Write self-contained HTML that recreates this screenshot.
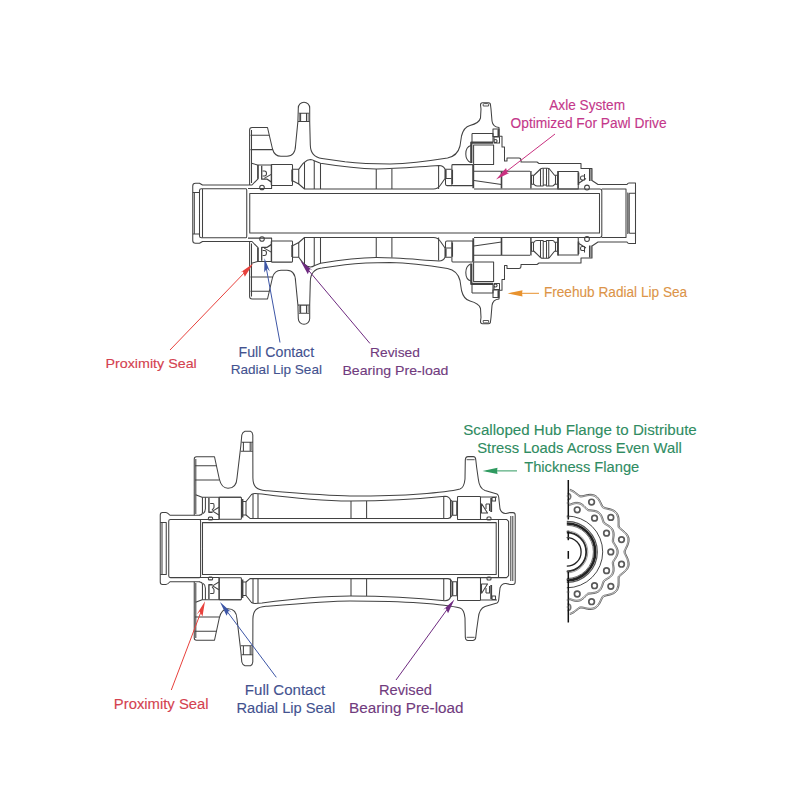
<!DOCTYPE html>
<html><head><meta charset="utf-8"><style>
html,body{margin:0;padding:0;background:#fff;}
body{width:800px;height:800px;overflow:hidden;position:relative;}
svg{position:absolute;left:0;top:0;}
.t{font-family:"Liberation Sans",sans-serif;font-size:13.5px;}
</style></head><body>
<svg width="800" height="800" viewBox="0 0 800 800">


<g fill="none" stroke="#424242" stroke-width="1.05" stroke-linejoin="round">
  <path d="M192.75,213.25 V186 Q192.75,183.2 195.5,183.2 H199.5 L202.5,185 H252 L258,178.8 V165 M 192.75 213.25 V 240.5 Q 192.75 243.3 195.5 243.3 H 199.5 L 202.5 241.5 H 252 L 258 247.7 V 261.5"/>
  <path d="M194.3,213.25 V192.5 M192.75,192.5 H199.5 M 194.3 213.25 V 234 M 192.75 234 H 199.5"/>
  <path d="M199.5,213.25 V190.5 Q199.5,188.75 201.5,188.75 H246 Q246.75,188.75 246.75,190.5 V213.25 M 199.5 213.25 V 236 Q 199.5 237.75 201.5 237.75 H 246 Q 246.75 237.75 246.75 236 V 213.25"/>
  <path d="M202.5,213.25 V189 M 202.5 213.25 V 237.5"/>
  <path d="M249.75,213.25 V193.5 H599.5 V213.25 M 249.75 213.25 V 233 H 599.5 V 213.25"/>
  <path d="M249.6,185 V130 Q249.6,127.5 252.1,127.5 H267.5 L272.5,149 Q274.5,156.25 281,156.25 H287 Q295.3,156.25 295.6,145 L297.9,121.4 L298.3,108 A5.7,5.7 0 0 1 309.7,108 V121.4 L310.3,145 C310.5,153 314,157.5 322,158.4 L345,161.8 C360,163.5 375,164 390,164 C410,163.5 432,160.5 447.5,158 C455,156.5 458.5,152 460,146 L461.5,136 C463,130 466,126.5 470,125.5 C476,124 479.5,122 480.5,118 L481,109 L480.5,105 Q480.5,102.8 482.5,102.8 H488.5 Q490.5,102.8 490.5,105 L491,109 L492,121 C492.5,125 494.5,127 499,127.5 V136.2 H502 V147 H504.5 V161 H507 V158 H519 Q521,158 521,160.5 V162 H537 L539,163.5 H581 V168.5 H592 V180.5 L598,184.5 H627 Q627.8,183 629,183 H635.5 V213.25 M 249.6 241.5 V 296.5 Q 249.6 299 252.1 299 H 267.5 L 272.5 277.5 Q 274.5 270.25 281 270.25 H 287 Q 295.3 270.25 295.6 281.5 L 297.9 305.1 L 298.3 318.5 A 5.7 5.7 0 0 0 309.7 318.5 V 305.1 L 310.3 281.5 C 310.5 273.5 314 269 322 268.1 L 345 264.7 C 360 263 375 262.5 390 262.5 C 410 263 432 266 447.5 268.5 C 455 270 458.5 274.5 460 280.5 L 461.5 290.5 C 463 296.5 466 300 470 301 C 476 302.5 479.5 304.5 480.5 308.5 L 481 317.5 L 480.5 321.5 Q 480.5 323.7 482.5 323.7 H 488.5 Q 490.5 323.7 490.5 321.5 L 491 317.5 L 492 305.5 C 492.5 301.5 494.5 299.5 499 299 V 290.3 H 502 V 279.5 H 504.5 V 265.5 H 507 V 268.5 H 519 Q 521 268.5 521 266 V 264.5 H 537 L 539 263 H 581 V 258 H 592 V 246 L 598 242 H 627 Q 627.8 243.5 629 243.5 H 635.5 V 213.25"/>
  <path d="M251.5,183 V130 M 251.5 243.5 V 296.5"/>
  <path d="M250.5,135.3 H269.3 M 250.5 291.2 H 269.3"/>
  <path d="M250.5,149.6 H272.6 M 250.5 276.9 H 272.6"/>
  <path d="M298.8,113.3 H309.2 M298,121.4 H309.7 M300.6,113.3 V121.4 M306.5,113.3 V121.4 M 298.8 313.2 H 309.2 M 298 305.1 H 309.7 M 300.6 313.2 V 305.1 M 306.5 313.2 V 305.1"/>
  <path d="M299.4,114 V121 M308.2,114 V121 M 299.4 312.5 V 305.5 M 308.2 312.5 V 305.5" stroke="#888" stroke-width="1.2"/>
  <path d="M251.5,163.2 L257.6,165 H271.6 V188.4 H248 M 251.5 263.3 L 257.6 261.5 H 271.6 V 238.1 H 248"/>
  <path d="M257.9,165 V178.8 M 257.9 261.5 V 247.7" stroke-width="1.4"/>
  <path d="M261.7,165.7 V179.2 H267.2 L271.2,181.9 M 261.7 260.8 V 247.3 H 267.2 L 271.2 244.6" stroke-width="1.3"/>
  <path d="M262.6,171 H264.5 Q266.5,171 266.5,173.5 Q266.5,176 264.5,176 H262.6 M 262.6 255.5 H 264.5 Q 266.5 255.5 266.5 253 Q 266.5 250.5 264.5 250.5 H 262.6"/>
  <path d="M264.2,178.4 L271.2,174.4 M 264.2 248.1 L 271.2 252.1"/>
  <circle cx="262" cy="187.5" r="2.3"/>
  <circle cx="262" cy="239" r="2.3"/>
  <rect x="271.25" y="164.4" width="21.25" height="21.2" rx="0.8"/>
  <rect x="271.25" y="240.9" width="21.25" height="21.2" rx="0.8"/>
  <path d="M292.2,169.5 V181.5 M 292.2 257 V 245" stroke-width="1.8"/>
  <path d="M293,169.25 H298.75 V184 L293,181 M 293 257.25 H 298.75 V 242.5 L 293 245.5"/>
  <path d="M298.75,169.25 C301,166.5 302.5,163.5 304.5,162.3 Q307,159.5 310.5,159.5 Q312.5,159.6 314.2,160.8 L320.5,163.2 C340,166.3 358,168.6 376,168.9 C395,169 415,167 439,165.5 Q443.5,165.6 445,169.2 M 298.75 257.25 C 301 260 302.5 263 304.5 264.2 Q 307 267 310.5 267 Q 312.5 266.9 314.2 265.7 L 320.5 263.3 C 340 260.2 358 257.9 376 257.6 C 395 257.5 415 259.5 439 261 Q 443.5 260.9 445 257.3"/>
  <path d="M438.6,166 V189 M 438.6 260.5 V 237.5"/>
  <path d="M298.75,184 L304.5,189 H433.5 Q438,189 440.5,185 L445,178.5 M 298.75 242.5 L 304.5 237.5 H 433.5 Q 438 237.5 440.5 241.5 L 445 248"/>
  <path d="M304.5,162.4 V189 M314.25,160.8 V189 M320.5,163.2 V189 M 304.5 264.1 V 237.5 M 314.25 265.7 V 237.5 M 320.5 263.3 V 237.5"/>
  <path d="M376.25,168.9 V189 M391.9,168.9 V189 M 376.25 257.6 V 237.5 M 391.9 257.6 V 237.5"/>
  <path d="M445,169.2 V178.5 M445,169.25 H451.5 M445.5,178.5 H451.5 M445.5,178.5 V184 Q445.5,185.6 447,185.6 H452 M 445 257.3 V 248 M 445 257.25 H 451.5 M 445.5 248 H 451.5 M 445.5 248 V 242.5 Q 445.5 240.9 447 240.9 H 452"/>
  <path d="M445.8,169.8 V178 M 445.8 256.7 V 248.5" stroke-width="1.6"/>
  <path d="M452.3,169.8 V184 M 452.3 256.7 V 242.5" stroke-width="1.5"/>
  <rect x="451.9" y="164.6" width="21.2" height="21" rx="0.8"/>
  <rect x="451.9" y="240.9" width="21.2" height="21" rx="0.8"/>
  <path d="M473.3,165 V188.3 M 473.3 261.5 V 238.2" stroke-width="1.8"/>
  <path d="M472,133.5 H493 V142 M472,142 V133.5 M 472 293 H 493 V 284.5 M 472 284.5 V 293"/>
  <path d="M493,142.6 H471.3 V163 M 493 283.9 H 471.3 V 263.5" stroke-width="2.2"/>
  <rect x="473.6" y="145" width="20" height="19.5"/>
  <rect x="473.6" y="262" width="20" height="19.5"/>
  <path d="M471,145.5 C467,146.5 465.8,150 465.8,154 C465.8,158 467.5,161 470.5,162.5 M 471 281 C 467 280 465.8 276.5 465.8 272.5 C 465.8 268.5 467.5 265.5 470.5 264"/>
  <path d="M493,129 H499 V136.5 H493 Z M 493 297.5 H 499 V 290 H 493 Z" />
  <path d="M483.2,106 V104.5 Q483.2,103.6 484.2,103.6 H487.6 Q488.6,103.6 488.6,104.5 V106 Z M 483.2 320.5 V 322 Q 483.2 322.9 484.2 322.9 H 487.6 Q 488.6 322.9 488.6 322 V 320.5 Z" stroke-width="0.9"/>
  <path d="M498.3,129.5 V136 M 498.3 297 V 290.5" stroke-width="1.6"/>
  <path d="M494,137 H499.5 V143 H494 Z M495.5,139.5 A1.5,1.5 0 1 0 495.6,139.5 M 494 289.5 H 499.5 V 283.5 H 494 Z M 495.5 287 A 1.5 1.5 0 1 1 495.6 287"/>
  <path d="M474,171.2 H530 M 474 255.3 H 530" />
  <path d="M501.5,171.5 V188.5 M 501.5 255 V 238" stroke-width="1.6"/>
  <path d="M474,180.5 L501.5,184.5 M 474 246 L 501.5 242" />
  <path d="M474,189 H578.5 M 474 237.5 H 578.5" />
  <path d="M530.9,171 V188.5 M 530.9 255.5 V 238" stroke-width="1.4"/>
  <path d="M531.5,175.25 H534 L540.5,169 Q541.5,168.25 542.5,168.25 H547.5 Q548.5,168.25 549.5,169 L554.5,175.25 H557.5 V184.25 H554.5 Q554,186 552.5,186 H546.5 L546,185 H543.5 L543,186 H537 Q535,186 534,184.25 H531.5 Z M 531.5 251.25 H 534 L 540.5 257.5 Q 541.5 258.25 542.5 258.25 H 547.5 Q 548.5 258.25 549.5 257.5 L 554.5 251.25 H 557.5 V 242.25 H 554.5 Q 554 240.5 552.5 240.5 H 546.5 L 546 241.5 H 543.5 L 543 240.5 H 537 Q 535 240.5 534 242.25 H 531.5 Z"/>
  <path d="M540.5,169 V186 M543.25,168.25 V185.3 M546.5,168.25 V185.3 M548.75,168.5 V186 M533.5,175.25 V184.25 M555.5,175.25 V184.25 M 540.5 257.5 V 240.5 M 543.25 258.25 V 241.2 M 546.5 258.25 V 241.2 M 548.75 258 V 240.5 M 533.5 251.25 V 242.25 M 555.5 251.25 V 242.25"/>
  <path d="M558.2,171 V188.5 M 558.2 255.5 V 238" stroke-width="1.4"/>
  <rect x="557.75" y="171.5" width="20.5" height="17.5"/>
  <rect x="557.75" y="237.5" width="20.5" height="17.5"/>
  <path d="M578.5,172.5 V185 M 578.5 254 V 241.5" stroke-width="1.6"/>
  <path d="M589.5,169 V181 M591,169 V181 M 589.5 257.5 V 245.5 M 591 257.5 V 245.5"/>
  <path d="M584.5,174 V180 H582 Q580.5,180 580.5,178 Q580.5,176 582,176 H584.5 M579,183 L586,178.5 M 584.5 252.5 V 246.5 H 582 Q 580.5 246.5 580.5 248.5 Q 580.5 250.5 582 250.5 H 584.5 M 579 243.5 L 586 248"/>
  <circle cx="587" cy="187.5" r="2.4"/>
  <circle cx="587" cy="239" r="2.4"/>
  <path d="M578.5,189 H599.8 Q601.8,189 601.8,191 V213.25 M601.8,189 H626 V213.25 M 578.5 237.5 H 599.8 Q 601.8 237.5 601.8 235.5 V 213.25 M 601.8 237.5 H 626 V 213.25"/>
  <path d="M629.2,193.3 V213.25 M629.2,193.3 H635.5 M627.8,192.5 V213.25 M 629.2 233.2 V 213.25 M 629.2 233.2 H 635.5 M 627.8 234 V 213.25"/>
</g>
<g fill="none" stroke="#424242" stroke-width="1.05" stroke-linejoin="round">
  <path d="M160.25,548.5 V515 Q160.25,512.5 162.5,512.5 H166 Q167.5,512.5 170,515.25 H200 M 160.25 548.5 V 582 Q 160.25 584.5 162.5 584.5 H 166 Q 167.5 584.5 170 581.75 H 200"/>
  <path d="M162,548.5 V522.5 M160.25,522.5 H166.25 V548.5 M 162 548.5 V 574.5 M 160.25 574.5 H 166.25 V 548.5"/>
  <path d="M168.75,548.5 V521 Q168.75,519.4 170.5,519.4 H199.5 Q200.6,519.4 200.6,521 V548.5 M 168.75 548.5 V 576 Q 168.75 577.6 170.5 577.6 H 199.5 Q 200.6 577.6 200.6 576 V 548.5"/>
  <path d="M202.5,548.5 V522.6 H496.2 V548.5 M 202.5 548.5 V 574.4 H 496.2 V 548.5"/>
  <path d="M194.25,515.25 V459 Q194.25,456.75 196.5,456.75 H214.5 L219.3,479 Q221.5,488.25 228,488.25 Q236.5,488.25 237,478 L240.8,446 L241.8,435 Q242.5,432 245,431.3 H250.5 Q252.5,432 252.8,435 V442.5 L252.9,478 C253,486 256,490 266,490.7 C300,493.5 330,496 350,496 C375,496 400,495.5 420,494 C440,492.5 452,491 460,489 C463,488 464.5,484 465,479 L465.3,460 Q465.5,456.6 468,456.6 H473 Q475.7,456.8 475.8,460 L476.6,467 L478.3,479 C479,486 481,489 485,490.5 L497,494 Q498.5,495 498.7,497 L500,509 C501,512 503,513.6 506,513.4 L510,512.6 H513 Q515.2,512.6 515.2,515 V548.5 M 194.25 581.75 V 638 Q 194.25 640.25 196.5 640.25 H 214.5 L 219.3 618 Q 221.5 608.75 228 608.75 Q 236.5 608.75 237 619 L 240.8 651 L 241.8 662 Q 242.5 665 245 665.7 H 250.5 Q 252.5 665 252.8 662 V 654.5 L 252.9 619 C 253 611 256 607 266 606.3 C 300 603.5 330 601 350 601 C 375 601 400 601.5 420 603 C 440 604.5 452 606 460 608 C 463 609 464.5 613 465 618 L 465.3 637 Q 465.5 640.4 468 640.4 H 473 Q 475.7 640.2 475.8 637 L 476.6 630 L 478.3 618 C 479 611 481 608 485 606.5 L 497 603 Q 498.5 602 498.7 600 L 500 588 C 501 585 503 583.4 506 583.6 L 510 584.4 H 513 Q 515.2 584.4 515.2 582 V 548.5"/>
  <path d="M195.8,514 V459 M 195.8 583 V 638"/>
  <path d="M466.6,459.6 H474.6 M 466.6 637.4 H 474.6" stroke="#777" stroke-width="1.2"/>
  <path d="M195,465.75 H216.4 M195,480 H219.5 M 195 631.25 H 216.4 M 195 617 H 219.5"/>
  <path d="M241.6,442.3 H252.8 M240.6,451.3 H252.8 M243.4,442.3 V451.3 M250.2,442.3 V451.3 M 241.6 654.7 H 252.8 M 240.6 645.7 H 252.8 M 243.4 654.7 V 645.7 M 250.2 654.7 V 645.7"/>
  <path d="M251.5,443 V450.8 M 251.5 654 V 646.2" stroke="#999" stroke-width="1.2"/>
  <path d="M195.6,494.8 L202.1,497.3 H241 M 195.6 602.2 L 202.1 599.7 H 241"/>
  <path d="M202.45,497.3 V512.5 Q202.45,515 199.5,515.1 M 202.45 599.7 V 584.5 Q 202.45 582 199.5 581.9"/>
  <path d="M205.4,497.3 V508.7 Q205.3,512 203.2,513.6 M 205.4 599.7 V 588.3 Q 205.3 585 203.2 583.4"/>
  <path d="M208.9,497.9 V512.2 H212.6 M 208.9 599.1 V 584.8 H 212.6" stroke-width="1.4"/>
  <path d="M210.2,503.5 H213 Q214,503.5 214,505 V507.5 L212,510.4 M 210.2 593.5 H 213 Q 214 593.5 214 592 V 589.5 L 212 586.6"/>
  <path d="M212.6,511.15 L218.9,507.3 M212.6,511.15 L218.9,515 M 212.6 585.85 L 218.9 589.7 M 212.6 585.85 L 218.9 582"/>
  <path d="M219.25,497.3 V519.5 M199.5,519.45 H219.25 M 219.25 599.7 V 577.5 M 199.5 577.55 H 219.25"/>
  <rect x="208.4" y="517.1" width="4.2" height="2.8" rx="1"/>
  <rect x="208.4" y="577.1" width="4.2" height="2.8" rx="1"/>
  <rect x="219" y="497.2" width="22.4" height="22" rx="0.8"/>
  <rect x="219" y="577.8" width="22.4" height="22" rx="0.8"/>
  <path d="M241.6,499 V517.5 M242.8,499 V517.5 M 241.6 598 V 579.5 M 242.8 598 V 579.5" stroke-width="1.2"/>
  <path d="M243,501.5 H246 V515 H243 M 243 595.5 H 246 V 582 H 243"/>
  <path d="M246,501.5 L251.5,494.5 Q253,493.5 255,493.5 L262,494 C300,499 330,501 350,501 C380,501 410,500 445,496.3 Q449.5,496.5 450.5,500 V518.3 M 246 595.5 L 251.5 602.5 Q 253 603.5 255 603.5 L 262 603 C 300 598 330 596 350 596 C 380 596 410 597 445 600.7 Q 449.5 600.5 450.5 597 V 578.7"/>
  <path d="M443.75,496.5 V518.3 M 443.75 600.5 V 578.7"/>
  <path d="M246,515 L250,518.4 H448 Q450.5,518.4 452,515.3 M 246 582 L 250 578.6 H 448 Q 450.5 578.6 452 581.7"/>
  <path d="M457.5,519.4 H506.6 L508.6,521.4 V548.5 M 457.5 577.6 H 506.6 L 508.6 575.6 V 548.5"/>
  <path d="M253,494 V518.8 M258,494 V518.8 M 253 603 V 578.2 M 258 603 V 578.2"/>
  <path d="M351,501 V518.4 M366.6,501 V518.4 M 351 596 V 578.6 M 366.6 596 V 578.6"/>
  <path d="M450.5,500 L452,501.25 V515.3 M452,501.25 H457.5 M452,515.3 H457.5 M 450.5 597 L 452 595.75 V 581.7 M 452 595.75 H 457.5 M 452 581.7 H 457.5"/>
  <path d="M452.6,501.5 V515 M 452.6 595.5 V 582" stroke-width="1.4"/>
  <path d="M457,501.5 V515 M 457 595.5 V 582" stroke-width="1.6"/>
  <rect x="457.5" y="496.5" width="23" height="23" rx="0.8"/>
  <rect x="457.5" y="577.5" width="23" height="23" rx="0.8"/>
  <path d="M480.5,497 H497 M 480.5 600 H 497"/>
  <path d="M481.5,503.5 L487.5,513 M481.5,503.5 V513 H488 M 481.5 593.5 L 487.5 584 M 481.5 593.5 V 584 H 488"/>
  <path d="M486,504 H489.5 V511 M486,504 V509 M 486 593 H 489.5 V 586 M 486 593 V 588"/>
  <path d="M491.2,498 V512 M 491.2 599 V 585" stroke-width="1.8"/>
  <rect x="492" y="497.5" width="3.5" height="3.5"/>
  <rect x="492" y="596" width="3.5" height="3.5"/>
  <rect x="487" y="517" width="4" height="3" rx="1"/>
  <rect x="487" y="577" width="4" height="3" rx="1"/>
  <path d="M498.5,519.4 V548.5 M 498.5 577.6 V 548.5"/>
  <path d="M510.8,516 V548.5 M512.8,516 V548.5 M 510.8 581 V 548.5 M 512.8 581 V 548.5"/>
</g>

<!-- ============ scalloped flange view ============ -->
<g id="scallop" fill="none" stroke="#3a3a3a">
<path d="M569.8,489.3 L570.7,489.5 L571.5,489.9 L572.3,490.3 L573.2,490.7 L574.0,491.2 L574.8,491.8 L575.5,492.4 L576.3,493.0 L577.0,493.6 L577.8,494.1 L578.5,494.7 L579.2,495.2 L580.0,495.6 L580.8,495.8 L581.6,495.7 L582.5,495.6 L583.4,495.5 L584.3,495.3 L585.2,495.1 L586.1,494.8 L587.1,494.7 L588.0,494.5 L589.0,494.4 L589.9,494.3 L590.9,494.3 L591.8,494.4 L592.7,494.5 L593.5,494.7 L594.4,495.0 L595.2,495.4 L595.9,495.8 L596.6,496.3 L597.3,496.9 L597.9,497.6 L598.5,498.3 L599.1,499.1 L599.6,499.9 L600.1,500.7 L600.5,501.6 L601.0,502.5 L601.4,503.3 L601.8,504.2 L602.2,505.0 L602.6,505.7 L603.1,506.4 L603.7,507.0 L604.5,507.3 L605.3,507.6 L606.2,507.9 L607.1,508.1 L608.0,508.3 L608.9,508.5 L609.9,508.7 L610.8,509.0 L611.7,509.3 L612.6,509.7 L613.4,510.0 L614.2,510.5 L615.0,511.0 L615.7,511.5 L616.3,512.2 L616.9,512.8 L617.4,513.6 L617.8,514.3 L618.2,515.2 L618.5,516.0 L618.7,516.9 L618.9,517.8 L619.0,518.8 L619.0,519.8 L619.1,520.7 L619.1,521.7 L619.1,522.6 L619.1,523.6 L619.1,524.5 L619.2,525.4 L619.3,526.2 L619.6,527.0 L620.1,527.7 L620.7,528.3 L621.4,528.9 L622.1,529.5 L622.8,530.0 L623.6,530.6 L624.3,531.3 L625.0,531.9 L625.7,532.6 L626.4,533.3 L627.0,534.0 L627.5,534.7 L628.0,535.5 L628.4,536.3 L628.7,537.1 L628.9,538.0 L629.1,538.8 L629.1,539.7 L629.1,540.6 L629.0,541.5 L628.8,542.4 L628.6,543.3 L628.3,544.2 L628.0,545.1 L627.6,546.0 L627.2,546.9 L626.8,547.8 L626.4,548.6 L626.0,549.5 L625.6,550.3 L625.4,551.1 L625.2,551.9 L625.4,552.7 L625.6,553.5 L626.0,554.3 L626.4,555.2 L626.8,556.0 L627.2,556.9 L627.6,557.8 L628.0,558.7 L628.3,559.6 L628.6,560.5 L628.8,561.4 L629.0,562.3 L629.1,563.2 L629.1,564.1 L629.1,565.0 L628.9,565.8 L628.7,566.7 L628.4,567.5 L628.0,568.3 L627.5,569.1 L627.0,569.8 L626.4,570.5 L625.7,571.2 L625.0,571.9 L624.3,572.5 L623.5,573.2 L622.8,573.8 L622.1,574.3 L621.4,574.9 L620.7,575.5 L620.1,576.1 L619.6,576.8 L619.3,577.6 L619.2,578.4 L619.1,579.3 L619.1,580.2 L619.1,581.2 L619.1,582.1 L619.1,583.1 L619.0,584.0 L619.0,585.0 L618.9,586.0 L618.7,586.9 L618.5,587.8 L618.2,588.6 L617.8,589.5 L617.4,590.2 L616.9,591.0 L616.3,591.6 L615.7,592.3 L615.0,592.8 L614.2,593.3 L613.4,593.8 L612.6,594.1 L611.7,594.5 L610.8,594.8 L609.9,595.1 L608.9,595.3 L608.0,595.5 L607.1,595.7 L606.2,595.9 L605.3,596.2 L604.5,596.5 L603.7,596.8 L603.1,597.4 L602.6,598.1 L602.2,598.8 L601.8,599.6 L601.4,600.5 L601.0,601.3 L600.5,602.2 L600.1,603.1 L599.6,603.9 L599.1,604.7 L598.5,605.5 L597.9,606.2 L597.3,606.9 L596.6,607.5 L595.9,608.0 L595.2,608.4 L594.4,608.8 L593.5,609.1 L592.7,609.3 L591.8,609.4 L590.9,609.5 L589.9,609.5 L589.0,609.4 L588.0,609.3 L587.1,609.1 L586.1,609.0 L585.2,608.7 L584.3,608.5 L583.4,608.3 L582.5,608.2 L581.6,608.1 L580.8,608.0 L580.0,608.2 L579.2,608.6 L578.5,609.1 L577.8,609.7 L577.0,610.2 L576.3,610.8 L575.5,611.4 L574.8,612.0 L574.0,612.6 L573.2,613.1 L572.3,613.5 L571.5,613.9 L570.7,614.3 L569.8,614.5" stroke="#555" stroke-width="1"/>
<path d="M569.7,490.6 L570.6,490.8 L571.4,491.2 L572.2,491.6 L573.0,492.0 L573.8,492.5 L574.6,493.1 L575.4,493.7 L576.1,494.2 L576.8,494.8 L577.6,495.4 L578.3,496.0 L579.0,496.4 L579.7,496.8 L580.5,497.0 L581.3,497.0 L582.1,496.9 L583.0,496.7 L583.9,496.5 L584.8,496.3 L585.7,496.1 L586.7,495.9 L587.6,495.7 L588.5,495.6 L589.5,495.5 L590.4,495.5 L591.3,495.6 L592.2,495.7 L593.0,495.9 L593.8,496.2 L594.6,496.5 L595.3,497.0 L596.0,497.5 L596.7,498.1 L597.3,498.7 L597.9,499.4 L598.4,500.2 L598.9,501.0 L599.4,501.8 L599.8,502.7 L600.2,503.5 L600.6,504.4 L601.0,505.2 L601.4,506.0 L601.9,506.8 L602.3,507.5 L602.9,508.0 L603.6,508.3 L604.4,508.6 L605.3,508.8 L606.2,509.0 L607.1,509.2 L608.0,509.4 L608.9,509.7 L609.9,509.9 L610.8,510.2 L611.6,510.5 L612.5,510.9 L613.3,511.4 L614.0,511.8 L614.7,512.4 L615.3,513.0 L615.9,513.6 L616.4,514.3 L616.8,515.1 L617.1,515.9 L617.4,516.8 L617.6,517.7 L617.8,518.6 L617.9,519.5 L617.9,520.4 L618.0,521.4 L618.0,522.3 L618.0,523.3 L618.0,524.2 L618.0,525.1 L618.0,526.0 L618.1,526.8 L618.4,527.6 L618.9,528.2 L619.5,528.8 L620.2,529.4 L620.9,529.9 L621.6,530.5 L622.3,531.1 L623.1,531.7 L623.8,532.3 L624.5,533.0 L625.1,533.6 L625.7,534.3 L626.3,535.1 L626.7,535.8 L627.1,536.6 L627.4,537.4 L627.7,538.3 L627.8,539.1 L627.9,540.0 L627.8,540.8 L627.7,541.7 L627.6,542.6 L627.3,543.5 L627.0,544.4 L626.7,545.3 L626.3,546.1 L625.9,547.0 L625.5,547.9 L625.1,548.7 L624.7,549.5 L624.3,550.3 L624.1,551.1 L623.9,551.9 L624.1,552.7 L624.3,553.5 L624.7,554.3 L625.1,555.1 L625.5,555.9 L625.9,556.8 L626.3,557.7 L626.7,558.5 L627.0,559.4 L627.3,560.3 L627.6,561.2 L627.7,562.1 L627.8,563.0 L627.9,563.8 L627.8,564.7 L627.7,565.5 L627.4,566.4 L627.1,567.2 L626.7,568.0 L626.3,568.7 L625.7,569.5 L625.1,570.2 L624.5,570.8 L623.8,571.5 L623.1,572.1 L622.3,572.7 L621.6,573.3 L620.9,573.9 L620.2,574.4 L619.5,575.0 L618.9,575.6 L618.4,576.2 L618.1,577.0 L618.0,577.8 L618.0,578.7 L618.0,579.6 L618.0,580.5 L618.0,581.5 L618.0,582.4 L617.9,583.4 L617.9,584.3 L617.8,585.2 L617.6,586.1 L617.4,587.0 L617.1,587.9 L616.8,588.7 L616.4,589.5 L615.9,590.2 L615.3,590.8 L614.7,591.4 L614.0,592.0 L613.3,592.4 L612.5,592.9 L611.6,593.3 L610.8,593.6 L609.9,593.9 L608.9,594.1 L608.0,594.4 L607.1,594.6 L606.2,594.8 L605.3,595.0 L604.4,595.2 L603.6,595.5 L602.9,595.8 L602.3,596.3 L601.9,597.0 L601.4,597.8 L601.0,598.6 L600.6,599.4 L600.2,600.3 L599.8,601.1 L599.4,602.0 L598.9,602.8 L598.4,603.6 L597.9,604.4 L597.3,605.1 L596.7,605.7 L596.0,606.3 L595.3,606.8 L594.6,607.3 L593.8,607.6 L593.0,607.9 L592.2,608.1 L591.3,608.2 L590.4,608.3 L589.5,608.3 L588.5,608.2 L587.6,608.1 L586.7,607.9 L585.7,607.7 L584.8,607.5 L583.9,607.3 L583.0,607.1 L582.1,606.9 L581.3,606.8 L580.5,606.8 L579.7,607.0 L579.0,607.4 L578.3,607.8 L577.6,608.4 L576.8,609.0 L576.1,609.6 L575.4,610.1 L574.6,610.7 L573.8,611.3 L573.0,611.8 L572.2,612.2 L571.4,612.6 L570.6,613.0 L569.7,613.2" stroke="#666" stroke-width="0.9"/>
<path d="M569.3,504.3 L569.9,504.1 L570.6,503.9 L571.3,503.6 L572.0,503.3 L572.7,503.1 L573.4,502.9 L574.2,502.7 L574.9,502.5 L575.6,502.4 L576.3,502.4 L577.1,502.4 L577.8,502.4 L578.5,502.5 L579.2,502.6 L579.8,502.9 L580.5,503.1 L581.1,503.4 L581.8,503.8 L582.4,504.2 L583.0,504.7 L583.5,505.1 L584.1,505.6 L584.6,506.2 L585.1,506.7 L585.7,507.2 L586.2,507.7 L586.7,508.2 L587.2,508.7 L587.7,509.1 L588.3,509.5 L589.0,509.6 L589.6,509.7 L590.3,509.8 L591.1,509.9 L591.8,510.0 L592.5,510.1 L593.3,510.2 L594.0,510.3 L594.8,510.4 L595.5,510.6 L596.2,510.8 L596.9,511.0 L597.5,511.3 L598.1,511.7 L598.7,512.0 L599.3,512.5 L599.8,512.9 L600.3,513.5 L600.8,514.0 L601.2,514.6 L601.5,515.2 L601.9,515.9 L602.2,516.6 L602.5,517.3 L602.7,518.0 L603.0,518.7 L603.2,519.4 L603.4,520.1 L603.7,520.7 L603.9,521.4 L604.2,522.0 L604.6,522.6 L605.1,523.0 L605.7,523.4 L606.3,523.8 L606.9,524.2 L607.5,524.6 L608.1,525.0 L608.8,525.4 L609.4,525.8 L610.0,526.2 L610.6,526.7 L611.1,527.2 L611.6,527.7 L612.1,528.2 L612.5,528.8 L612.9,529.4 L613.2,530.0 L613.5,530.7 L613.7,531.4 L613.9,532.1 L614.0,532.8 L614.1,533.5 L614.1,534.2 L614.1,535.0 L614.1,535.7 L614.0,536.5 L613.9,537.2 L613.8,537.9 L613.7,538.7 L613.6,539.4 L613.6,540.1 L613.6,540.8 L613.6,541.4 L613.9,542.1 L614.2,542.7 L614.6,543.3 L614.9,543.9 L615.3,544.5 L615.7,545.1 L616.1,545.8 L616.5,546.4 L616.9,547.1 L617.2,547.7 L617.5,548.4 L617.7,549.1 L617.9,549.8 L618.1,550.5 L618.2,551.2 L618.2,551.9 L618.2,552.6 L618.1,553.3 L617.9,554.0 L617.7,554.7 L617.5,555.4 L617.2,556.1 L616.9,556.7 L616.5,557.4 L616.1,558.0 L615.7,558.7 L615.3,559.3 L614.9,559.9 L614.6,560.5 L614.2,561.1 L613.9,561.7 L613.6,562.4 L613.6,563.0 L613.6,563.7 L613.6,564.4 L613.7,565.1 L613.8,565.9 L613.9,566.6 L614.0,567.3 L614.1,568.1 L614.1,568.8 L614.1,569.6 L614.1,570.3 L614.0,571.0 L613.9,571.7 L613.7,572.4 L613.5,573.1 L613.2,573.8 L612.9,574.4 L612.5,575.0 L612.1,575.6 L611.6,576.1 L611.1,576.6 L610.6,577.1 L610.0,577.6 L609.4,578.0 L608.8,578.4 L608.1,578.8 L607.5,579.2 L606.9,579.6 L606.3,580.0 L605.7,580.4 L605.1,580.8 L604.6,581.2 L604.2,581.8 L603.9,582.4 L603.7,583.1 L603.4,583.7 L603.2,584.4 L603.0,585.1 L602.7,585.8 L602.5,586.5 L602.2,587.2 L601.9,587.9 L601.5,588.6 L601.2,589.2 L600.8,589.8 L600.3,590.3 L599.8,590.9 L599.3,591.3 L598.7,591.8 L598.1,592.1 L597.5,592.5 L596.9,592.8 L596.2,593.0 L595.5,593.2 L594.8,593.4 L594.0,593.5 L593.3,593.6 L592.5,593.7 L591.8,593.8 L591.1,593.9 L590.3,594.0 L589.6,594.1 L589.0,594.2 L588.3,594.3 L587.7,594.7 L587.2,595.1 L586.7,595.6 L586.2,596.1 L585.7,596.6 L585.1,597.1 L584.6,597.6 L584.1,598.2 L583.5,598.7 L583.0,599.1 L582.4,599.6 L581.8,600.0 L581.1,600.4 L580.5,600.7 L579.8,600.9 L579.2,601.2 L578.5,601.3 L577.8,601.4 L577.1,601.4 L576.3,601.4 L575.6,601.4 L574.9,601.3 L574.2,601.1 L573.4,600.9 L572.7,600.7 L572.0,600.5 L571.3,600.2 L570.6,599.9 L569.9,599.7 L569.3,599.5" stroke="#555" stroke-width="1"/>
<path d="M569.2,505.6 L569.9,505.4 L570.5,505.1 L571.2,504.9 L571.9,504.6 L572.6,504.4 L573.3,504.2 L574.0,504.0 L574.7,503.8 L575.4,503.7 L576.1,503.6 L576.8,503.6 L577.5,503.7 L578.2,503.8 L578.9,503.9 L579.5,504.1 L580.2,504.4 L580.8,504.7 L581.4,505.0 L582.0,505.5 L582.5,505.9 L583.1,506.4 L583.6,506.9 L584.2,507.4 L584.7,507.9 L585.2,508.4 L585.7,508.9 L586.2,509.4 L586.7,509.9 L587.2,510.3 L587.7,510.6 L588.4,510.8 L589.0,510.9 L589.7,511.0 L590.4,511.0 L591.2,511.1 L591.9,511.2 L592.6,511.3 L593.3,511.4 L594.0,511.5 L594.8,511.6 L595.4,511.8 L596.1,512.1 L596.8,512.4 L597.4,512.7 L597.9,513.1 L598.5,513.5 L599.0,513.9 L599.5,514.5 L599.9,515.0 L600.3,515.6 L600.7,516.2 L601.0,516.8 L601.3,517.5 L601.6,518.2 L601.8,518.9 L602.0,519.6 L602.3,520.3 L602.5,520.9 L602.7,521.6 L602.9,522.2 L603.2,522.8 L603.6,523.4 L604.1,523.8 L604.6,524.2 L605.2,524.6 L605.8,524.9 L606.4,525.3 L607.1,525.7 L607.7,526.1 L608.3,526.5 L608.9,526.9 L609.4,527.3 L610.0,527.8 L610.5,528.3 L611.0,528.8 L611.4,529.4 L611.7,530.0 L612.1,530.6 L612.3,531.2 L612.5,531.9 L612.7,532.6 L612.8,533.3 L612.9,534.0 L612.9,534.7 L612.9,535.4 L612.8,536.2 L612.8,536.9 L612.7,537.6 L612.6,538.3 L612.5,539.0 L612.4,539.7 L612.3,540.4 L612.3,541.1 L612.4,541.7 L612.6,542.3 L612.9,542.9 L613.3,543.5 L613.7,544.1 L614.1,544.7 L614.5,545.3 L614.9,545.9 L615.2,546.6 L615.6,547.2 L615.9,547.8 L616.2,548.5 L616.4,549.2 L616.6,549.8 L616.8,550.5 L616.9,551.2 L616.9,551.9 L616.9,552.6 L616.8,553.3 L616.6,554.0 L616.4,554.6 L616.2,555.3 L615.9,556.0 L615.6,556.6 L615.2,557.2 L614.9,557.9 L614.5,558.5 L614.1,559.1 L613.7,559.7 L613.3,560.3 L612.9,560.9 L612.6,561.5 L612.4,562.1 L612.3,562.7 L612.3,563.4 L612.4,564.1 L612.5,564.8 L612.6,565.5 L612.7,566.2 L612.8,566.9 L612.8,567.6 L612.9,568.4 L612.9,569.1 L612.9,569.8 L612.8,570.5 L612.7,571.2 L612.5,571.9 L612.3,572.6 L612.1,573.2 L611.7,573.8 L611.4,574.4 L611.0,575.0 L610.5,575.5 L610.0,576.0 L609.4,576.5 L608.9,576.9 L608.3,577.3 L607.7,577.7 L607.1,578.1 L606.4,578.5 L605.8,578.9 L605.2,579.2 L604.6,579.6 L604.1,580.0 L603.6,580.4 L603.2,581.0 L602.9,581.6 L602.7,582.2 L602.5,582.9 L602.3,583.5 L602.0,584.2 L601.8,584.9 L601.6,585.6 L601.3,586.3 L601.0,587.0 L600.7,587.6 L600.3,588.2 L599.9,588.8 L599.5,589.3 L599.0,589.9 L598.5,590.3 L597.9,590.7 L597.4,591.1 L596.8,591.4 L596.1,591.7 L595.4,592.0 L594.8,592.2 L594.0,592.3 L593.3,592.4 L592.6,592.5 L591.9,592.6 L591.2,592.7 L590.4,592.8 L589.7,592.8 L589.0,592.9 L588.4,593.0 L587.7,593.2 L587.2,593.5 L586.7,593.9 L586.2,594.4 L585.7,594.9 L585.2,595.4 L584.7,595.9 L584.2,596.4 L583.6,596.9 L583.1,597.4 L582.5,597.9 L582.0,598.3 L581.4,598.8 L580.8,599.1 L580.2,599.4 L579.5,599.7 L578.9,599.9 L578.2,600.0 L577.5,600.1 L576.8,600.2 L576.1,600.2 L575.4,600.1 L574.7,600.0 L574.0,599.8 L573.3,599.6 L572.6,599.4 L571.9,599.2 L571.2,598.9 L570.5,598.7 L569.9,598.4 L569.2,598.2" stroke="#666" stroke-width="0.9"/>
<circle cx="577.22" cy="509.78" r="2.8" stroke="#5a5a5a" stroke-width="1.7"/>
<circle cx="594.54" cy="518.13" r="2.8" stroke="#5a5a5a" stroke-width="1.7"/>
<circle cx="606.52" cy="533.16" r="2.8" stroke="#5a5a5a" stroke-width="1.7"/>
<circle cx="610.80" cy="551.90" r="2.8" stroke="#5a5a5a" stroke-width="1.7"/>
<circle cx="606.52" cy="570.64" r="2.8" stroke="#5a5a5a" stroke-width="1.7"/>
<circle cx="594.53" cy="585.68" r="2.8" stroke="#5a5a5a" stroke-width="1.7"/>
<circle cx="577.21" cy="594.02" r="2.8" stroke="#5a5a5a" stroke-width="1.7"/>
<circle cx="591.59" cy="502.07" r="2.8" stroke="#5a5a5a" stroke-width="1.7"/>
<circle cx="610.83" cy="517.42" r="2.8" stroke="#5a5a5a" stroke-width="1.7"/>
<circle cx="621.51" cy="539.59" r="2.8" stroke="#5a5a5a" stroke-width="1.7"/>
<circle cx="621.51" cy="564.20" r="2.8" stroke="#5a5a5a" stroke-width="1.7"/>
<circle cx="610.84" cy="586.37" r="2.8" stroke="#5a5a5a" stroke-width="1.7"/>
<circle cx="591.60" cy="601.72" r="2.8" stroke="#5a5a5a" stroke-width="1.7"/>
<path d="M567.60,493.40 A3.2,3.2 0 0 1 567.60,499.80" stroke="#777" stroke-width="1.5"/>
<path d="M567.60,604.00 A3.2,3.2 0 0 1 567.60,610.40" stroke="#777" stroke-width="1.5"/>
<path d="M566.80,537.60 A14.3,14.3 0 0 1 566.80,566.20" stroke="#222" stroke-width="1.3"/>
<path d="M566.80,532.50 A19.4,19.4 0 0 1 566.80,571.30" stroke="#2a2a2a" stroke-width="1.8"/>
<path d="M566.80,530.90 A21.0,21.0 0 0 1 566.80,572.90" stroke="#888" stroke-width="0.8"/>
<path d="M566.80,525.30 A26.6,26.6 0 0 1 566.80,578.50" stroke="#777" stroke-width="1.0"/>
<path d="M566.80,523.50 A28.4,28.4 0 0 1 566.80,580.30" stroke="#222" stroke-width="2.6"/>
<path d="M566.80,521.40 A30.5,30.5 0 0 1 566.80,582.40" stroke="#555" stroke-width="1.2"/>
<path d="M566.80,516.00 A35.9,35.9 0 0 1 566.80,587.80" stroke="#333" stroke-width="0.9"/>
<path d="M568.3,480 V519.5" stroke="#111" stroke-width="1.5"/>
<path d="M568.3,530.75 V540.2" stroke="#111" stroke-width="1.5"/>
<path d="M568.3,551 V558.8" stroke="#111" stroke-width="1.5"/>
<path d="M568.3,571.3 V622.5" stroke="#111" stroke-width="1.5"/>
<path d="M566.6999999999999,496 H569.5" stroke="#555" stroke-width="0.8"/>
<path d="M566.6999999999999,503 H569.5" stroke="#555" stroke-width="0.8"/>
<path d="M566.6999999999999,516.9 H569.5" stroke="#555" stroke-width="0.8"/>
<path d="M566.6999999999999,531.5 H569.5" stroke="#555" stroke-width="0.8"/>
<path d="M566.6999999999999,537.5 H569.5" stroke="#555" stroke-width="0.8"/>
<path d="M566.6999999999999,571.5 H569.5" stroke="#555" stroke-width="0.8"/>
<path d="M566.6999999999999,579.5 H569.5" stroke="#555" stroke-width="0.8"/>
<path d="M566.6999999999999,592 H569.5" stroke="#555" stroke-width="0.8"/>
<path d="M566.6999999999999,600 H569.5" stroke="#555" stroke-width="0.8"/>
<path d="M566.6999999999999,607 H569.5" stroke="#555" stroke-width="0.8"/>

</g>

<!-- ============ arrows ============ -->
<g stroke-width="1">
<line x1="250.23" y1="266.68" x2="170.00" y2="350.00" stroke="#e8413c" stroke-width="1"/>
<polygon points="253.00,263.80 240.36,272.46 242.91,271.58 244.83,276.76" fill="#e8413c"/>
<line x1="265.22" y1="262.23" x2="280.00" y2="342.50" stroke="#3d56a6" stroke-width="1"/>
<polygon points="264.50,258.30 264.18,272.59 266.96,268.21 269.89,271.54" fill="#3d56a6"/>
<line x1="303.07" y1="263.86" x2="370.00" y2="343.50" stroke="#6e2a80" stroke-width="1"/>
<polygon points="300.50,260.80 307.85,274.21 309.86,269.07 312.45,270.35" fill="#6e2a80"/>
<line x1="499.17" y1="177.06" x2="555.00" y2="134.00" stroke="#c8307f" stroke-width="1"/>
<polygon points="496.00,179.50 509.71,172.72 507.52,172.90 506.05,167.96" fill="#c8307f"/>
<line x1="511.50" y1="293.30" x2="539.00" y2="293.30" stroke="#e8922e" stroke-width="1"/>
<polygon points="507.50,293.30 522.50,296.40 522.05,293.30 522.50,290.20" fill="#e8922e"/>
<line x1="203.58" y1="605.04" x2="171.30" y2="690.00" stroke="#e8413c" stroke-width="1"/>
<polygon points="205.00,601.30 196.87,614.26 199.83,611.40 202.48,616.39" fill="#e8413c"/>
<line x1="222.40" y1="605.20" x2="276.30" y2="677.30" stroke="#3d56a6" stroke-width="1"/>
<polygon points="220.00,602.00 226.58,615.81 228.71,610.65 231.38,612.22" fill="#3d56a6"/>
<line x1="452.05" y1="602.64" x2="396.00" y2="680.00" stroke="#6e2a80" stroke-width="1"/>
<polygon points="454.40,599.40 443.17,609.79 445.86,608.15 448.03,613.31" fill="#6e2a80"/>
<line x1="486.50" y1="470.90" x2="517.00" y2="470.90" stroke="#2f9a60" stroke-width="1"/>
<polygon points="482.50,470.90 497.50,474.00 497.05,470.90 497.50,467.80" fill="#2f9a60"/>

</g>

<!-- ============ labels ============ -->
<g class="t">
<text x="549.25" y="109.50" fill="#c4378a" stroke="#c4378a" stroke-width="0.12" font-size="13.94" textLength="75.75" lengthAdjust="spacingAndGlyphs">Axle System</text>
<text x="510.60" y="127.50" fill="#c4378a" stroke="#c4378a" stroke-width="0.12" font-size="13.94" textLength="156.00" lengthAdjust="spacingAndGlyphs">Optimized For Pawl Drive</text>
<text x="543.90" y="297.30" fill="#dc9448" stroke="#dc9448" stroke-width="0.12" font-size="14.64" textLength="143.30" lengthAdjust="spacingAndGlyphs">Freehub Radial Lip Sea</text>
<text x="105.50" y="367.50" fill="#d4424f" stroke="#d4424f" stroke-width="0.12" font-size="13.59" textLength="91.30" lengthAdjust="spacingAndGlyphs">Proximity Seal</text>
<text x="238.55" y="357.20" fill="#43528f" stroke="#43528f" stroke-width="0.12" font-size="14.01" textLength="75.55" lengthAdjust="spacingAndGlyphs">Full Contact</text>
<text x="230.70" y="374.40" fill="#43528f" stroke="#43528f" stroke-width="0.12" font-size="13.45" textLength="91.30" lengthAdjust="spacingAndGlyphs">Radial Lip Seal</text>
<text x="370.10" y="357.25" fill="#713b7e" stroke="#713b7e" stroke-width="0.12" font-size="13.59" textLength="49.80" lengthAdjust="spacingAndGlyphs">Revised</text>
<text x="342.40" y="374.50" fill="#713b7e" stroke="#713b7e" stroke-width="0.12" font-size="13.59" textLength="106.10" lengthAdjust="spacingAndGlyphs">Bearing Pre-load</text>
<text x="463.25" y="435.20" fill="#2f8c62" stroke="#2f8c62" stroke-width="0.12" font-size="15.26" textLength="233.50" lengthAdjust="spacingAndGlyphs">Scalloped Hub Flange to Distribute</text>
<text x="477.20" y="453.00" fill="#2f8c62" stroke="#2f8c62" stroke-width="0.12" font-size="14.78" textLength="204.60" lengthAdjust="spacingAndGlyphs">Stress Loads Across Even Wall</text>
<text x="524.20" y="471.75" fill="#2f8c62" stroke="#2f8c62" stroke-width="0.12" font-size="14.85" textLength="115.05" lengthAdjust="spacingAndGlyphs">Thickness Flange</text>
<text x="113.80" y="708.60" fill="#d4424f" stroke="#d4424f" stroke-width="0.12" font-size="14.43" textLength="94.80" lengthAdjust="spacingAndGlyphs">Proximity Seal</text>
<text x="244.80" y="694.50" fill="#43528f" stroke="#43528f" stroke-width="0.12" font-size="14.64" textLength="80.40" lengthAdjust="spacingAndGlyphs">Full Contact</text>
<text x="236.50" y="713.10" fill="#43528f" stroke="#43528f" stroke-width="0.12" font-size="14.64" textLength="98.70" lengthAdjust="spacingAndGlyphs">Radial Lip Seal</text>
<text x="379.00" y="694.50" fill="#713b7e" stroke="#713b7e" stroke-width="0.12" font-size="14.64" textLength="53.00" lengthAdjust="spacingAndGlyphs">Revised</text>
<text x="349.00" y="713.10" fill="#713b7e" stroke="#713b7e" stroke-width="0.12" font-size="14.64" textLength="114.50" lengthAdjust="spacingAndGlyphs">Bearing Pre-load</text>

</g>
</svg>
</body></html>
